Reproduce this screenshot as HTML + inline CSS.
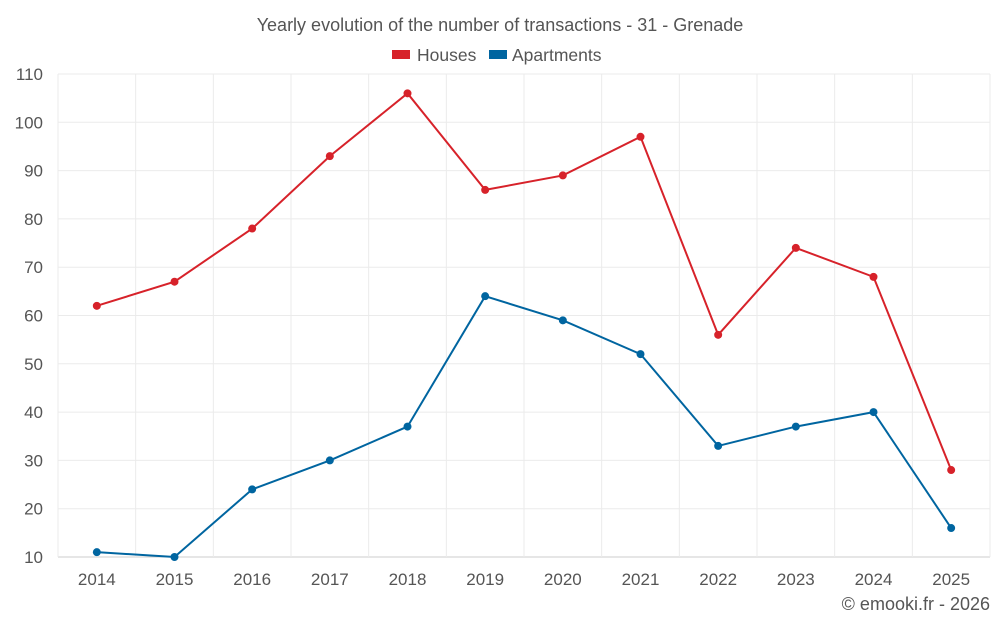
<!DOCTYPE html>
<html><head><meta charset="utf-8"><style>
body{margin:0;background:#fff;font-family:"Liberation Sans",sans-serif;}
svg text{font-family:"Liberation Sans",sans-serif;}
</style></head><body>
<svg id="c" width="1000" height="625">
<text x="500" y="31" text-anchor="middle" font-size="18" fill="#555">Yearly evolution of the number of transactions - 31 - Grenade</text>
<g><rect x="392" y="50" width="18" height="9" fill="#d7222a"/><text x="417" y="61" font-size="17.5" fill="#555">Houses</text></g>
<g><rect x="489" y="50" width="18" height="9" fill="#0065a0"/><text x="512" y="61" font-size="17.5" fill="#555">Apartments</text></g>
<g id="grid"></g><g id="axes"></g><g id="series"></g>
<text x="990" y="610" text-anchor="end" font-size="18" fill="#555">© emooki.fr - 2026</text>
</svg>
<script>
const years=["2014","2015","2016","2017","2018","2019","2020","2021","2022","2023","2024","2025"];
const houses=[62,67,78,93,106,86,89,97,56,74,68,28];
const apartments=[11,10,24,30,37,64,59,52,33,37,40,16];
const yTicks=[10,20,30,40,50,60,70,80,90,100,110];
const L=58,R=990,T=74,B=557,ymin=10,ymax=110;
const bw=(R-L)/years.length;
const X=i=>L+bw*(i+0.5);
const Y=v=>B-(v-ymin)/(ymax-ymin)*(B-T);
const NS="http://www.w3.org/2000/svg";
function mk(t,a,p){const e=document.createElementNS(NS,t);for(const k in a)e.setAttribute(k,a[k]);p.appendChild(e);return e;}
const g=document.getElementById('grid'),ax=document.getElementById('axes'),s=document.getElementById('series');
yTicks.forEach(v=>{const l=mk('line',{x1:L,x2:R,y1:Y(v),y2:Y(v),stroke:v==ymin?'#ccc':'#ebebeb'},g);


const t=mk('text',{x:L-15,y:Y(v)+6,'text-anchor':'end','font-size':17,fill:'#555'},ax);t.textContent=v;

});
for(let i=0;i<=years.length;i++){const l=mk('line',{x1:L+bw*i,x2:L+bw*i,y1:T,y2:B,stroke:'#ebebeb'},g);

}
years.forEach((y,i)=>{const t=mk('text',{x:X(i),y:B+28,'text-anchor':'middle','font-size':17,fill:'#555'},ax);t.textContent=y;

});
function draw(d,c,n){const p=mk('polyline',{points:d.map((v,i)=>X(i)+','+Y(v)).join(' '),fill:'none',stroke:c,'stroke-width':2},s);


d.forEach((v,i)=>{const e=mk('circle',{cx:X(i),cy:Y(v),r:4,fill:c},s);

});}
draw(houses,'#d7222a','houses');draw(apartments,'#0065a0','apartments');
</script>
</body></html>
